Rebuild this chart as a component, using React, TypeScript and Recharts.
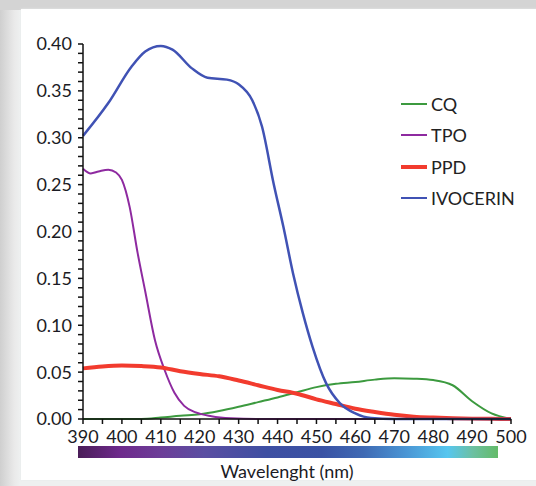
import { LineChart, Line, XAxis, YAxis, Legend } from 'recharts';

// absorbance spectra
const gridNm = [390, 395, 400, 405, 410, 415, 420, 425, 430, 435, 440, 445, 450, 455, 460, 465, 470, 475, 480, 485, 490, 495, 500];
const cqAbs = [0, 0, 0, 0, 0.0015, 0.0035, 0.005, 0.0085, 0.013, 0.018, 0.023, 0.0285, 0.034, 0.0375, 0.0395, 0.042, 0.0435, 0.043, 0.0415, 0.036, 0.019, 0.006, 0];
const ppdAbs = [0.054, 0.056, 0.057, 0.0565, 0.055, 0.051, 0.048, 0.0455, 0.041, 0.036, 0.031, 0.027, 0.021, 0.016, 0.011, 0.0075, 0.0045, 0.0025, 0.0015, 0.0008, 0.0004, 0.0002, 0];

const tpoNm = [390, 392, 394, 396.5, 398.5, 400, 402, 404, 406, 408.5, 411, 413.5, 416, 419, 423, 428, 435, 500];
const tpoAbs = [0.267, 0.262, 0.264, 0.266, 0.263, 0.255, 0.226, 0.178, 0.136, 0.084, 0.052, 0.028, 0.014, 0.007, 0.003, 0.0008, 0, 0];

const ivoNm = [390, 396.5, 402.5, 406, 410, 413, 418, 422, 427, 430, 433.5, 436, 439, 441.5, 444, 446.5, 449, 452.5, 456, 460, 464, 470, 500];
const ivoAbs = [0.302, 0.337, 0.376, 0.392, 0.398, 0.394, 0.374, 0.364, 0.362, 0.357, 0.34, 0.312, 0.251, 0.205, 0.155, 0.113, 0.077, 0.038, 0.017, 0.006, 0.001, 0, 0];

const xTicks = [390, 395, 400, 405, 410, 415, 420, 425, 430, 435, 440, 445, 450, 455, 460, 465, 470, 475, 480, 485, 490, 495, 500];
const yTicks = Array.from({ length: 41 }, (_, i) => i / 100);

const toRows = (xs: number[], ys: number[]) => xs.map((nm, i) => ({ nm, v: ys[i] }));

const series = [
  { name: 'CQ', color: '#3c9a3f', width: 2, data: toRows(gridNm, cqAbs) },
  { name: 'TPO', color: '#8e2aa0', width: 2, data: toRows(tpoNm, tpoAbs) },
  { name: 'PPD', color: '#f23b2e', width: 4, data: toRows(gridNm, ppdAbs) },
  { name: 'IVOCERIN', color: '#4052b4', width: 2.5, data: toRows(ivoNm, ivoAbs) },
];

const font = 'Lato, "Noto Sans", sans-serif';

function LegendBox() {
  return (
    <div style={{ fontFamily: font, fontSize: 18, color: '#222' }}>
      {series.map((s) => (
        <div key={s.name} style={{ display: 'flex', alignItems: 'center', height: 31.5 }}>
          <div style={{ width: 26, height: s.width > 3 ? 3.5 : 2, background: s.color, marginRight: 4 }} />
          <span>{s.name}</span>
        </div>
      ))}
    </div>
  );
}

export default function App() {
  return (
    <div
      style={{
        position: 'absolute',
        left: 0,
        top: 0,
        width: 536,
        height: 486,
        background: 'linear-gradient(90deg, #cfcfcf 0px, #e9e9e9 14px, #eef0f0 20px)',
        overflow: 'hidden',
      }}
    >
      <div style={{ position: 'absolute', left: 0, top: 0, width: 536, height: 10, background: '#d4d4d4' }} />
      <div
        style={{
          position: 'absolute',
          left: 21,
          top: 9,
          width: 520,
          height: 471,
          background: '#fff',
          boxShadow: '0 0 2px #e6eaea',
        }}
      />
      <div style={{ position: 'absolute', left: 0, top: 0 }}>
        <LineChart width={536} height={486} margin={{ top: 44, right: 25, bottom: 37, left: 0 }}>
          <XAxis
            type="number"
            dataKey="nm"
            domain={[390, 500]}
            ticks={xTicks}
            interval={0}
            allowDuplicatedCategory={false}
            tickFormatter={(v: number) => (v % 10 === 0 ? String(v) : '')}
            stroke="#111"
            strokeWidth={1.5}
            tickSize={5}
            tickMargin={6}
            height={30}
            tick={{ fill: '#1b1b24', fontSize: 18, fontFamily: font }}
          />
          <YAxis
            type="number"
            domain={[0, 0.4]}
            ticks={yTicks}
            interval={0}
            tickFormatter={(v: number) => (Math.round(v * 100) % 5 === 0 ? v.toFixed(2) : '')}
            stroke="#111"
            strokeWidth={1.5}
            tickSize={5}
            tickMargin={6}
            width={83}
            tick={{ fill: '#1b1b24', fontSize: 18, fontFamily: font }}
          />
          <Legend
            layout="vertical"
            align="center"
            verticalAlign="middle"
            content={<LegendBox />}
            wrapperStyle={{ left: 401, top: 88, width: 130 }}
          />
          {series.map((s) => (
            <Line
              key={s.name}
              name={s.name}
              data={s.data}
              dataKey="v"
              type="monotone"
              stroke={s.color}
              strokeWidth={s.width}
              dot={false}
              activeDot={false}
              isAnimationActive={false}
            />
          ))}
        </LineChart>
      </div>
      <div
        style={{
          position: 'absolute',
          left: 78,
          top: 446,
          width: 420,
          height: 12,
          background:
            'linear-gradient(90deg, #4a1d58 0%, #6e2a8c 10%, #6c3e98 20%, #5a4ea2 30%, #3e4fa2 45%, #3a52a4 58%, #3f6ab4 68%, #4a95d4 78%, #56c6ef 88%, #6cc0a2 94%, #64bb68 100%)',
        }}
      />
      <div
        style={{
          position: 'absolute',
          left: 187,
          top: 460,
          width: 200,
          textAlign: 'center',
          fontFamily: font,
          fontSize: 18,
          color: '#1b1b24',
        }}
      >
        Wavelenght (nm)
      </div>
    </div>
  );
}
